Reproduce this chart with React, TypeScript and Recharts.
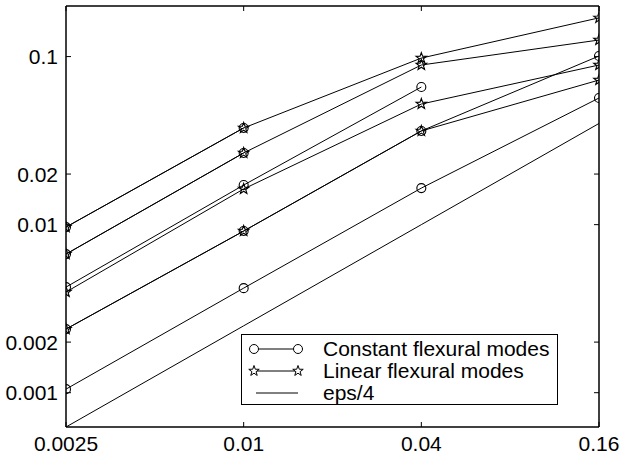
import React from 'react';
import { LineChart, Line, XAxis, YAxis } from 'recharts';

// x positions (log scale)
const X_VALUES = [0.0025, 0.01, 0.04, 0.16];
const X_TICKS = [0.0025, 0.01, 0.04, 0.16];
const Y_TICKS = [0.001, 0.002, 0.01, 0.02, 0.1];
const X_DOMAIN = [0.0025, 0.16];
const Y_DOMAIN = [0.000625, 0.2];

// constant flexural modes (circles); null = not computed
const CONST_1 = [0.00967, 0.0376, null, null];
const CONST_2 = [0.00668, 0.0267, null, null];
const CONST_3 = [0.00425, 0.0172, 0.0659, null];
const CONST_4 = [0.00239, 0.00916, 0.0361, 0.1008];
const CONST_5 = [0.00105, 0.00419, 0.0165, 0.0567];

// linear flexural modes (stars)
const LIN_1 = [0.00967, 0.0376, 0.098, 0.17];
const LIN_2 = [0.00668, 0.0267, 0.0891, 0.1255];
const LIN_3 = [0.00397, 0.0163, 0.0522, 0.0891];
const LIN_4 = [0.00239, 0.00916, 0.0361, 0.0725];

// reference line eps/4
const EPS_QUARTER = [0.000625, 0.0025, 0.01, 0.04];

const CONST_SERIES = [CONST_1, CONST_2, CONST_3, CONST_4, CONST_5];
const LIN_SERIES = [LIN_1, LIN_2, LIN_3, LIN_4];

const LEGEND_LABELS = ['Constant flexural modes', 'Linear flexural modes', 'eps/4'];

const FONT = '"Liberation Sans", Arial, Helvetica, sans-serif';
const FONT_SIZE = 21;
const TICK_LEN = 5;

const data = X_VALUES.map((x, i) => {
  const row: Record<string, number | null> = { x, eps: EPS_QUARTER[i] };
  CONST_SERIES.forEach((s, k) => (row[`c${k}`] = s[i]));
  LIN_SERIES.forEach((s, k) => (row[`l${k}`] = s[i]));
  return row;
});

const starPoints = (cx: number, cy: number, r: number) => {
  const pts: string[] = [];
  for (let k = 0; k < 10; k++) {
    const a = ((-90 + k * 36) * Math.PI) / 180;
    const rr = k % 2 === 0 ? r : r * 0.4;
    pts.push(`${cx + rr * Math.cos(a)},${cy + rr * Math.sin(a)}`);
  }
  return pts.join(' ');
};

const CircleDot = (props: any) => {
  const { cx, cy, value, index } = props;
  if (cx == null || cy == null || value == null) return <g key={`n-${index}`} />;
  return <circle key={`c-${index}`} cx={cx} cy={cy} r={4.5} fill="none" stroke="#000" strokeWidth={1.1} />;
};

const StarDot = (props: any) => {
  const { cx, cy, value, index } = props;
  if (cx == null || cy == null || value == null) return <g key={`n-${index}`} />;
  return <polygon key={`s-${index}`} points={starPoints(cx, cy, 5.5)} fill="none" stroke="#000" strokeWidth={1.1} />;
};

const BottomTick = (props: any) => {
  const { x, y, payload } = props;
  const axisY = y - 8;
  return (
    <g>
      <line x1={x} y1={axisY} x2={x} y2={axisY - TICK_LEN} stroke="#000" strokeWidth={1} />
      <text x={x} y={y} dy={16} textAnchor="middle" fontSize={FONT_SIZE} fontFamily={FONT} fill="#000">
        {String(payload.value)}
      </text>
    </g>
  );
};

const LeftTick = (props: any) => {
  const { x, y, payload } = props;
  const axisX = x + 8;
  return (
    <g>
      <line x1={axisX} y1={y} x2={axisX + TICK_LEN} y2={y} stroke="#000" strokeWidth={1} />
      <text x={x} y={y} dy={7.5} textAnchor="end" fontSize={FONT_SIZE} fontFamily={FONT} fill="#000">
        {String(payload.value)}
      </text>
    </g>
  );
};

const TopTick = (props: any) => {
  const { x, y } = props;
  return <line x1={x} y1={y} x2={x} y2={y + TICK_LEN} stroke="#000" strokeWidth={1} />;
};

const RightTick = (props: any) => {
  const { x, y } = props;
  return <line x1={x} y1={y} x2={x - TICK_LEN} y2={y} stroke="#000" strokeWidth={1} />;
};

const LegendBox = () => (
  <div
    style={{
      position: 'absolute',
      left: 241,
      top: 334,
      width: 317,
      height: 71,
      boxSizing: 'border-box',
      border: '1.5px solid #000',
      background: '#fff',
      paddingTop: 3,
      fontFamily: FONT,
      fontSize: FONT_SIZE,
    }}
  >
    {LEGEND_LABELS.map((label, i) => (
      <div key={label} style={{ display: 'flex', alignItems: 'center', height: 22 }}>
        <svg width={80} height={22} style={{ flex: 'none' }}>
          <line x1={i === 2 ? 14 : 12} y1={11} x2={56} y2={11} stroke="#000" strokeWidth={1} />
          {i === 0 && (
            <>
              <circle cx={12} cy={11} r={4.5} fill="#fff" stroke="#000" />
              <circle cx={56} cy={11} r={4.5} fill="#fff" stroke="#000" />
            </>
          )}
          {i === 1 && (
            <>
              <polygon points={starPoints(12, 11, 5.5)} fill="#fff" stroke="#000" />
              <polygon points={starPoints(56, 11, 5.5)} fill="#fff" stroke="#000" />
            </>
          )}
        </svg>
        <span style={{ marginLeft: 1, lineHeight: '22px' }}>{label}</span>
      </div>
    ))}
  </div>
);

export default function App() {
  return (
    <div style={{ position: 'absolute', left: 0, top: 0, width: 621, height: 459, background: '#fff' }}>
      <LineChart width={621} height={459} data={data} margin={{ top: 5, right: 21, bottom: 0, left: 0 }}>
        <XAxis
          xAxisId="b"
          dataKey="x"
          type="number"
          scale="log"
          domain={X_DOMAIN}
          ticks={X_TICKS}
          interval={0}
          allowDataOverflow
          height={32}
          tickSize={0}
          tickMargin={8}
          tickLine={false}
          axisLine={{ stroke: '#000', strokeWidth: 1.5 }}
          tick={<BottomTick />}
        />
        <XAxis
          xAxisId="t"
          orientation="top"
          dataKey="x"
          type="number"
          scale="log"
          domain={X_DOMAIN}
          ticks={X_TICKS}
          interval={0}
          allowDataOverflow
          height={1}
          tickSize={0}
          tickMargin={0}
          tickLine={false}
          axisLine={{ stroke: '#000', strokeWidth: 1.5 }}
          tick={<TopTick />}
        />
        <YAxis
          yAxisId="l"
          type="number"
          scale="log"
          domain={Y_DOMAIN}
          ticks={Y_TICKS}
          interval={0}
          allowDataOverflow
          width={66}
          tickSize={0}
          tickMargin={8}
          tickLine={false}
          axisLine={{ stroke: '#000', strokeWidth: 1.5 }}
          tick={<LeftTick />}
        />
        <YAxis
          yAxisId="r"
          orientation="right"
          type="number"
          scale="log"
          domain={Y_DOMAIN}
          ticks={Y_TICKS}
          interval={0}
          allowDataOverflow
          width={1}
          tickSize={0}
          tickMargin={0}
          tickLine={false}
          axisLine={{ stroke: '#000', strokeWidth: 1.5 }}
          tick={<RightTick />}
        />
        {/* invisible series so the mirrored top/right axes get a domain */}
        <Line
          xAxisId="t"
          yAxisId="r"
          dataKey="eps"
          stroke="none"
          dot={false}
          activeDot={false}
          legendType="none"
          isAnimationActive={false}
        />
        <Line
          xAxisId="b"
          yAxisId="l"
          dataKey="eps"
          stroke="#000"
          strokeWidth={1}
          dot={false}
          activeDot={false}
          isAnimationActive={false}
          type="linear"
        />
        {CONST_SERIES.map((_, k) => (
          <Line
            key={`c${k}`}
            xAxisId="b"
            yAxisId="l"
            dataKey={`c${k}`}
            stroke="#000"
            strokeWidth={1}
            dot={CircleDot}
            activeDot={false}
            isAnimationActive={false}
            type="linear"
          />
        ))}
        {LIN_SERIES.map((_, k) => (
          <Line
            key={`l${k}`}
            xAxisId="b"
            yAxisId="l"
            dataKey={`l${k}`}
            stroke="#000"
            strokeWidth={1}
            dot={StarDot}
            activeDot={false}
            isAnimationActive={false}
            type="linear"
          />
        ))}
      </LineChart>
      <LegendBox />
    </div>
  );
}
